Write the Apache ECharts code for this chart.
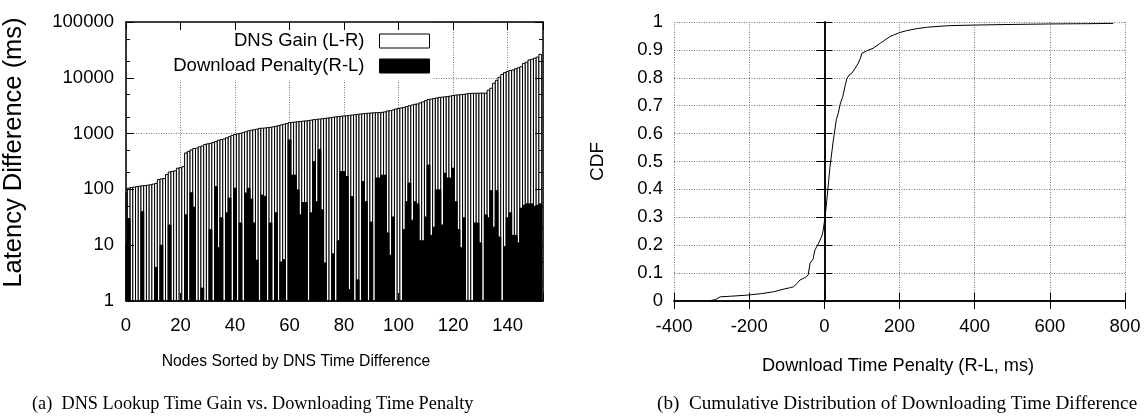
<!DOCTYPE html>
<html>
<head>
<meta charset="utf-8">
<script src="https://cdn.jsdelivr.net/npm/echarts@6/dist/echarts.min.js"></script>
<style>
  html, body { margin: 0; padding: 0; background: #fff; }
  #chart { width: 1145px; height: 419px; }
</style>
</head>
<body>
<div id="chart"></div>
<script>
// DNS lookup time gain per node (L-R, ms), nodes sorted ascending
const dnsGain = [
  88, 105, 108, 110, 112, 114, 116, 117, 119, 121,
  124, 128, 150, 154, 156, 185, 205, 210, 215, 240,
  245, 255, 450, 480, 510, 540, 550, 580, 600, 640,
  655, 670, 690, 720, 760, 780, 800, 840, 880, 930,
  960, 990, 1010, 1040, 1080, 1120, 1150, 1170, 1200, 1240,
  1250, 1260, 1280, 1295, 1320, 1350, 1390, 1430, 1470, 1520,
  1570, 1590, 1610, 1630, 1650, 1670, 1690, 1710, 1740, 1780,
  1800, 1820, 1840, 1870, 1900, 1930, 1960, 1990, 2020, 2050,
  2070, 2090, 2120, 2150, 2180, 2210, 2240, 2270, 2300, 2320,
  2340, 2360, 2370, 2380, 2400, 2450, 2540, 2580, 2650, 2750,
  2820, 2880, 2950, 3050, 3150, 3250, 3350, 3400, 3550, 3700,
  3900, 4100, 4150, 4250, 4350, 4450, 4500, 4550, 4600, 4700,
  4800, 4900, 4950, 5000, 5050, 5150, 5250, 5270, 5280, 5290,
  5300, 5310, 5320, 6000, 6500, 8000, 9000, 10200, 11500, 12400,
  13000, 13500, 13800, 14500, 15100, 15800, 18200, 19000, 20900, 21500,
  22500, 23500, 26300
];

// Download time penalty per node (R-L, ms); null where the penalty is not positive
const downloadPenalty = [
  11, 30, null, null, null, null, 40, null, null, null,
  null, 4, null, 10, null, null, 23, null, null, null,
  null, null, 35, null, 87, 48, null, null, 1.7, null,
  null, 19, null, 112, 9, 31, null, 38, 70, null,
  105, null, 25, null, 86, 105, 67, 25, 5.4, null,
  79, 75, null, 25, null, 38, null, 5, 5.5, null,
  770, 180, 180, 98, 35, 58, 58, null, 38, 313,
  60, 520, 43, 4.8, null, null, 7, null, 12, 208,
  208, 170, 1.6, 74, null, 2.4, null, 138, 60, null,
  26, null, 160, 160, 180, 180, 16.6, 6.6, 32, null,
  null, null, 19, 60, 130, 28, 60, 55, 12, 12,
  32, 273, 15, 21, 98, 98, 23, 195, 160, 160,
  240, 60, 19, 9, 31, null, null, null, 25, 25,
  11, null, 35, 31, 95, 21, 95, 14, null, 9.4,
  31, 38, 15, 15, 11, 46, 52, 55, 55, 55,
  50, 52, 55
];

// Cumulative distribution of the download time difference
const cdfPenaltyMs = [
  -308, -290, -277, -250, -206, -170, -135, -110, -90, -82,
  -72, -65, -50, -43, -38, -30, -25, -18, -11, -5,
  -3, 2, 8, 15, 24, 32, 37, 43, 49, 55,
  60, 66, 73, 82, 90, 96, 100, 115, 130, 150,
  161, 175, 184, 200, 219, 245, 272, 300, 334, 400,
  486, 600, 700, 769
];
const cdfFraction = [
  0, 0.005, 0.015, 0.017, 0.021, 0.026, 0.033, 0.042, 0.048, 0.051,
  0.064, 0.075, 0.085, 0.093, 0.135, 0.15, 0.183, 0.2, 0.219, 0.24,
  0.254, 0.302, 0.38, 0.481, 0.577, 0.65, 0.673, 0.71, 0.732, 0.77,
  0.797, 0.81, 0.816, 0.834, 0.852, 0.87, 0.888, 0.898, 0.906, 0.925,
  0.935, 0.948, 0.953, 0.962, 0.969, 0.976, 0.981, 0.984, 0.987, 0.989,
  0.991, 0.993, 0.994, 0.995
];

// Minor tick positions on the logarithmic latency axis
const logMinorTicks = [2, 5, 20, 50, 200, 500, 2000, 5000, 20000, 50000];

const seriesNames = ['DNS Gain (L-R)', 'Download Penalty(R-L)'];

const SANS = "'Liberation Sans', Arial, sans-serif";
const SERIF = "'Liberation Serif', 'Times New Roman', serif";

const dnsData = dnsGain.map((v, i) => [i, v]);
const penaltyData = [];
downloadPenalty.forEach((v, i) => { if (v != null && v > 0) penaltyData.push([i, v]); });
const cdfData = cdfPenaltyMs.map((x, i) => [x, cdfFraction[i]]);

// Each node is a unit-wide box from the axis floor (1 ms) up to its value
function boxRenderer(fill) {
  return function (params, api) {
    const i = api.value(0);
    const v = api.value(1);
    const tl = api.coord([i - 0.5, v]);
    const br = api.coord([i + 0.5, 1]);
    const cs = params.coordSys;
    const shape = echarts.graphic.clipRectByRect(
      { x: tl[0], y: tl[1], width: br[0] - tl[0], height: br[1] - tl[1] },
      { x: cs.x, y: cs.y, width: cs.width, height: cs.height }
    );
    if (!shape) return null;
    return { type: 'rect', shape: shape, style: { fill: fill, stroke: '#000', lineWidth: 1 } };
  };
}

const gridDots = { show: true, lineStyle: { color: '#777', width: 1, type: [1, 1.5] } };
const frameLine = { show: true, lineStyle: { color: '#000', width: 1.5 } };
const tickLabel = { color: '#000', fontFamily: SANS, fontSize: 18.5 };

function frameAxis(extra, tickLen) {
  return Object.assign({
    axisLine: frameLine,
    axisTick: { show: true, inside: true, length: tickLen || 8, lineStyle: { color: '#000', width: 1 } },
    axisLabel: { show: false },
    splitLine: { show: false },
    z: 10
  }, extra);
}

function caption(text, left, top, size, family, align) {
  return {
    text: text, left: left, top: top, padding: 0, textAlign: align || 'left',
    textStyle: { fontFamily: family, fontSize: size, fontWeight: 'normal', color: '#000' }
  };
}

const chart = echarts.init(document.getElementById('chart'), null, { renderer: 'canvas' });

chart.setOption({
  animation: false,
  backgroundColor: '#fff',
  grid: [
    { left: 125, top: 22, width: 418, height: 279 },
    { left: 674, top: 22, width: 451, height: 279 }
  ],
  title: [
    caption('Nodes Sorted by DNS Time Difference', 296, 354, 15.7, SANS, 'center'),
    caption('Download Time Penalty (R-L, ms)', 898, 357, 18.2, SANS, 'center'),
    caption('(a)  DNS Lookup Time Gain vs. Downloading Time Penalty', 32, 395, 18.3, SERIF),
    caption('(b)  Cumulative Distribution of Downloading Time Difference', 657, 394, 19.2, SERIF)
  ],
  legend: {
    orient: 'vertical',
    align: 'right',
    right: 713,
    top: 22,
    padding: [8, 2, 3, 41],
    itemGap: 3,
    itemWidth: 50,
    itemHeight: 14,
    backgroundColor: '#fff',
    selectedMode: false,
    textStyle: { fontFamily: SANS, fontSize: 18.5, color: '#000', lineHeight: 22, padding: [0, 10, 0, 0] },
    data: [
      { name: seriesNames[0], icon: 'rect', itemStyle: { color: '#fff', borderColor: '#000', borderWidth: 1 } },
      { name: seriesNames[1], icon: 'rect', itemStyle: { color: '#000', borderColor: '#000', borderWidth: 1 } }
    ]
  },
  xAxis: [
    { // 0: node index labels and grid
      gridIndex: 0, type: 'value', min: 0, max: 153, interval: 20, position: 'bottom',
      axisLine: { show: false }, axisTick: { show: false },
      axisLabel: Object.assign({ margin: 15, showMaxLabel: false }, tickLabel),
      splitLine: gridDots
    },
    frameAxis({ gridIndex: 0, type: 'value', min: 0, max: 153, interval: 20, position: 'top' }),
    frameAxis({ gridIndex: 0, type: 'value', min: 0, max: 153, interval: 20, position: 'bottom' }),
    { // 3: penalty labels and grid
      gridIndex: 1, type: 'value', min: -400, max: 800, interval: 200, position: 'bottom',
      axisLine: { show: false }, axisTick: { show: false },
      axisLabel: Object.assign({ margin: 16 }, tickLabel),
      splitLine: gridDots
    },
    frameAxis({ gridIndex: 1, type: 'value', min: -400, max: 800, interval: 200, position: 'top' }),
    frameAxis({ gridIndex: 1, type: 'value', min: -400, max: 800, interval: 200, position: 'bottom' })
  ],
  yAxis: [
    { // 0: latency labels and grid
      gridIndex: 0, type: 'log', logBase: 10, min: 1, max: 100000, position: 'left',
      name: 'Latency Difference (ms)', nameLocation: 'middle', nameGap: 99,
      nameTextStyle: { fontFamily: SANS, fontSize: 25.5, color: '#000', padding: [0, 0, 0, 18] },
      axisLine: { show: false }, axisTick: { show: false },
      axisLabel: Object.assign({ margin: 12, formatter: v => String(Math.round(v)) }, tickLabel),
      splitLine: gridDots
    },
    frameAxis({ gridIndex: 0, type: 'log', logBase: 10, min: 1, max: 100000, position: 'left' }),
    frameAxis({ gridIndex: 0, type: 'log', logBase: 10, min: 1, max: 100000, position: 'left',
      axisLine: { show: false },
      axisTick: { show: true, inside: true, length: 4, customValues: logMinorTicks, lineStyle: { color: '#000', width: 1 } } }),
    frameAxis({ gridIndex: 0, type: 'log', logBase: 10, min: 1, max: 100000, position: 'right' }),
    frameAxis({ gridIndex: 0, type: 'log', logBase: 10, min: 1, max: 100000, position: 'right',
      axisLine: { show: false },
      axisTick: { show: true, inside: true, length: 4, customValues: logMinorTicks, lineStyle: { color: '#000', width: 1 } } }),
    { // 5: CDF labels, grid and left frame
      gridIndex: 1, type: 'value', min: 0, max: 1, interval: 0.1, position: 'left',
      name: 'CDF', nameLocation: 'middle', nameGap: 67,
      nameTextStyle: { fontFamily: SANS, fontSize: 19, color: '#000' },
      axisLine: frameLine,
      axisTick: { show: true, inside: true, length: 8, lineStyle: { color: '#000', width: 1 } },
      axisLabel: Object.assign({ margin: 11, formatter: v => String(parseFloat(v.toFixed(1))) }, tickLabel),
      splitLine: gridDots
    },
    frameAxis({ gridIndex: 1, type: 'value', min: 0, max: 1, interval: 0.1, position: 'right' })
  ],
  series: [
    {
      name: seriesNames[0], type: 'custom', xAxisIndex: 0, yAxisIndex: 0,
      itemStyle: { color: '#fff', borderColor: '#000' },
      renderItem: boxRenderer('#fff'), data: dnsData, z: 2
    },
    {
      name: seriesNames[1], type: 'custom', xAxisIndex: 0, yAxisIndex: 0,
      itemStyle: { color: '#000' },
      renderItem: boxRenderer('#000'), data: penaltyData, z: 3
    },
    {
      name: 'CDF', type: 'line', xAxisIndex: 3, yAxisIndex: 5,
      data: cdfData, showSymbol: false, symbol: 'none',
      lineStyle: { color: '#000', width: 1 }, itemStyle: { color: '#000' }
    }
  ]
});
</script>
</body>
</html>
